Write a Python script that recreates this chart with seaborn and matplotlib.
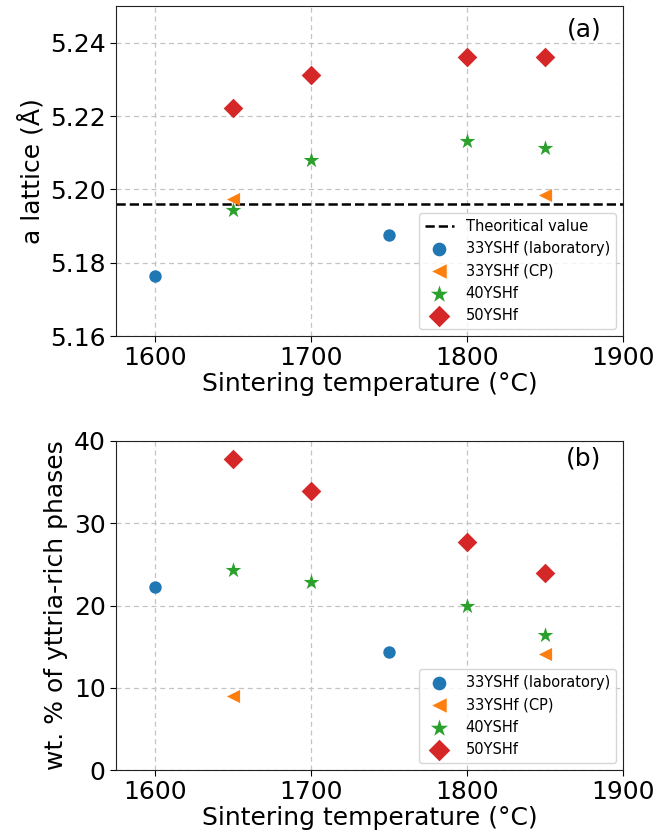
import matplotlib
matplotlib.use("Agg")
import matplotlib.pyplot as plt
import seaborn as sns
import pandas as pd

sns.set_style("ticks")
plt.rcParams['font.family'] = ['DejaVu Sans']
plt.rcParams['text.color'] = 'black'
plt.rcParams['axes.labelcolor'] = 'black'
plt.rcParams['xtick.color'] = 'black'
plt.rcParams['ytick.color'] = 'black'

series_names = ["33YSHf (laboratory)", "33YSHf (CP)", "40YSHf", "50YSHf"]
series_markers = ["o", "<", "*", "D"]

lab_T = [1600, 1750]
cp_T = [1650, 1850]
y40_T = [1650, 1700, 1800, 1850]
y50_T = [1650, 1700, 1800, 1850]

lat_lab = [5.1765, 5.1875]
lat_cp = [5.1975, 5.1985]
lat_40 = [5.1945, 5.2080, 5.2133, 5.2113]
lat_50 = [5.2222, 5.2312, 5.2362, 5.2360]
theoretical = 5.196

wt_lab = [22.3, 14.4]
wt_cp = [9.0, 14.1]
wt_40 = [24.3, 22.8, 20.0, 16.4]
wt_50 = [37.8, 33.9, 27.7, 24.0]

palette = sns.color_palette("tab10", 4)

fig = plt.figure(figsize=(6.59, 8.39), dpi=100)
ax1 = fig.add_axes([116/659, 1-336/839, (623-116)/659, (336-6)/839])
ax2 = fig.add_axes([116/659, 1-770/839, (623-116)/659, (770-441)/839])

temps = [lab_T, cp_T, y40_T, y50_T]
lats = [lat_lab, lat_cp, lat_40, lat_50]
wts = [wt_lab, wt_cp, wt_40, wt_50]
sizes = [80, 90, 140, 100]

ax1.axhline(theoretical, color="black", ls="--", lw=1.8, label="Theoritical value", zorder=1)
for name, mk, col, T, v, s in zip(series_names, series_markers, palette, temps, lats, sizes):
    df = pd.DataFrame({"T": T, "v": v})
    sns.scatterplot(data=df, x="T", y="v", ax=ax1, marker=mk, color=col, s=s,
                    linewidth=0, label=name, zorder=3)
for name, mk, col, T, v, s in zip(series_names, series_markers, palette, temps, wts, sizes):
    df = pd.DataFrame({"T": T, "v": v})
    sns.scatterplot(data=df, x="T", y="v", ax=ax2, marker=mk, color=col, s=s,
                    linewidth=0, label=name, zorder=3)

for ax in (ax1, ax2):
    ax.set_xlim(1575, 1900)
    ax.set_xticks([1600, 1700, 1800, 1900])
    ax.grid(True, ls=(0, (4, 3)), color="#c4c4c4", lw=0.9)
    ax.set_axisbelow(True)
    ax.tick_params(labelsize=18, length=4, color="black")
    ax.set_xlabel("Sintering temperature (°C)", fontsize=18, labelpad=1)
    for sp in ax.spines.values():
        sp.set_visible(True)
        sp.set_color("#222222")
    ax.legend(loc="lower right", fontsize=10.5, frameon=True, markerscale=1.1)

ax1.set_ylim(5.16, 5.25)
ax1.set_yticks([5.16, 5.18, 5.20, 5.22, 5.24])
ax1.set_yticklabels(["5.16", "5.18", "5.20", "5.22", "5.24"])
ax1.set_ylabel("a lattice (Å)", fontsize=18)
ax1.text(0.923, 0.93, "(a)", transform=ax1.transAxes, fontsize=18, ha="center", va="center")

ax2.set_ylim(0, 40)
ax2.set_yticks([0, 10, 20, 30, 40])
ax2.set_ylabel("wt. % of yttria-rich phases", fontsize=18)
ax2.text(0.923, 0.948, "(b)", transform=ax2.transAxes, fontsize=18, ha="center", va="center")

fig.savefig("out.png", dpi=100)
